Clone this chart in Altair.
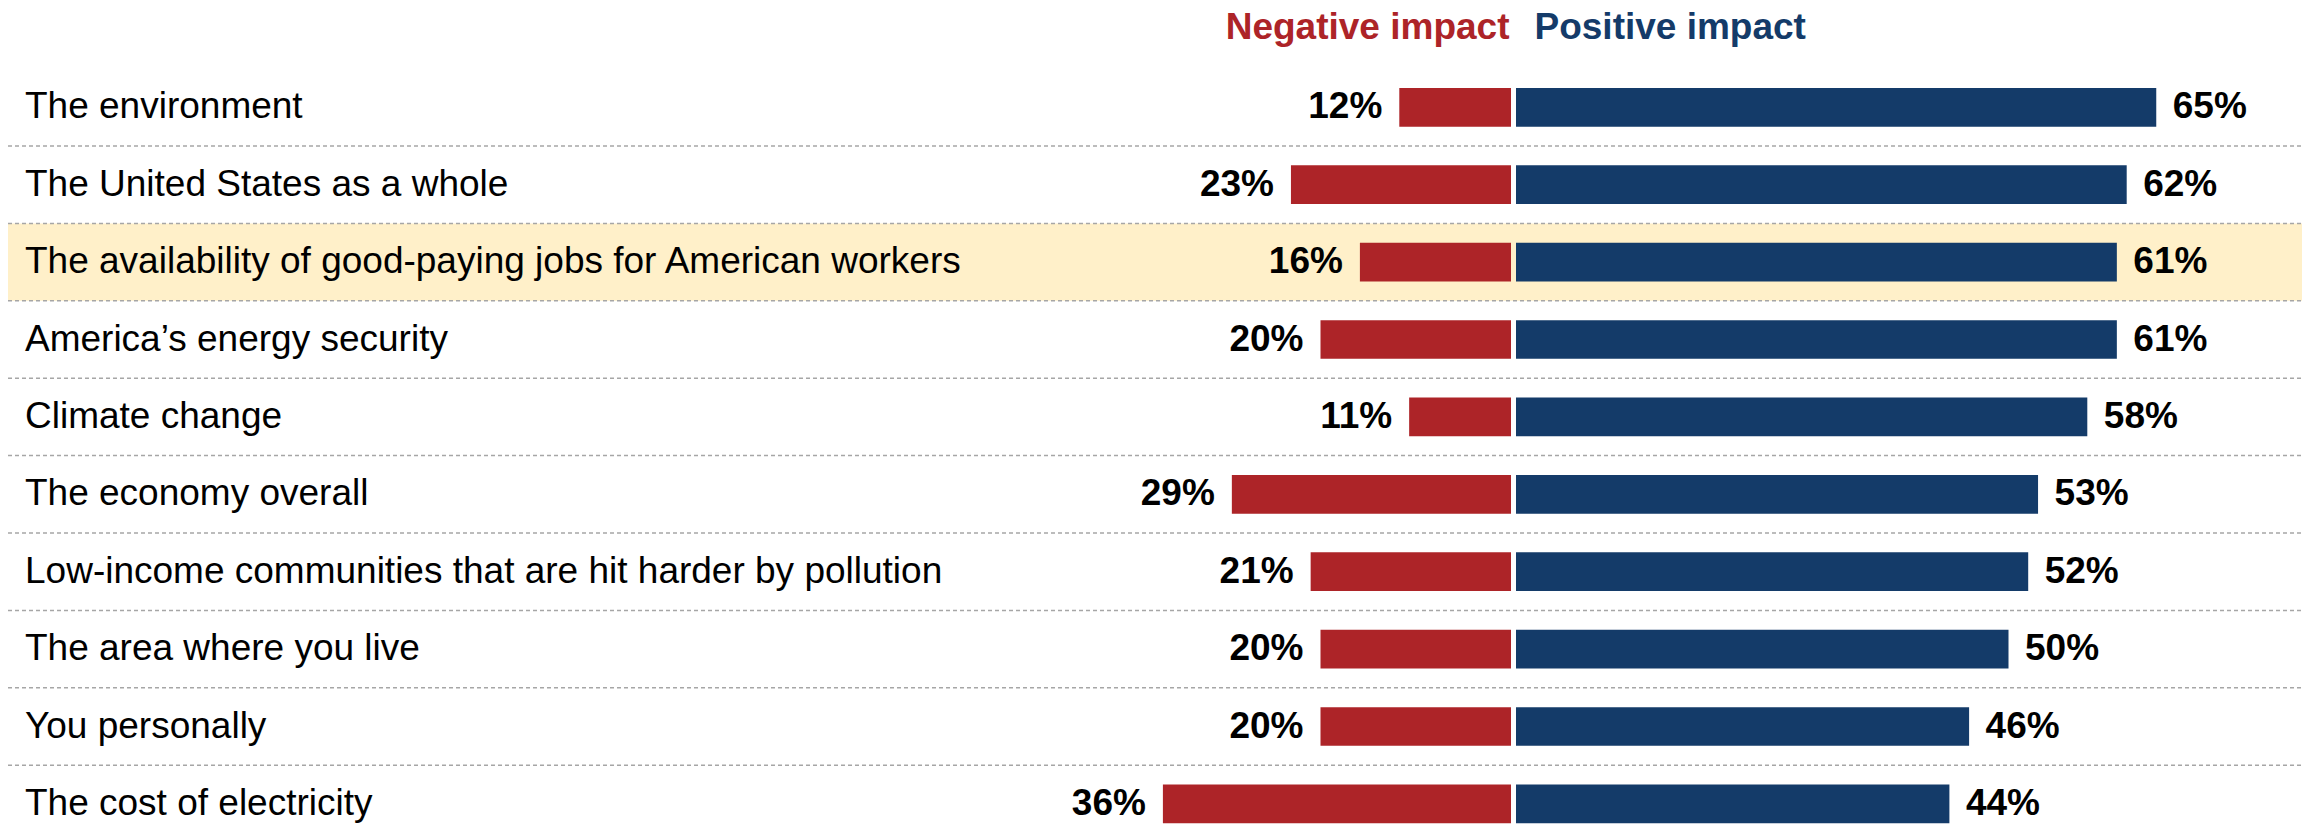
import altair as alt
import pandas as pd

categories = [
    "The environment",
    "The United States as a whole",
    "The availability of good-paying jobs for American workers",
    "America\u2019s energy security",
    "Climate change",
    "The economy overall",
    "Low-income communities that are hit harder by pollution",
    "The area where you live",
    "You personally",
    "The cost of electricity",
]
negative = [12, 23, 16, 20, 11, 29, 21, 20, 20, 36]
positive = [65, 62, 61, 61, 58, 53, 52, 50, 46, 44]
highlighted = [False, False, True, False, False, False, False, False, False, False]
headers = ["Negative impact", "Positive impact"]

RED = "#AD2428"
BLUE = "#143B69"
HIGHLIGHT = "#FFF0C9"
GRID = "#A6A6A6"
FONT = "Liberation Sans"
FS = 37

W, H = 2297, 817
ZERO_PX = 1505.5
K = 9.85
XMIN = -ZERO_PX / K
XMAX = (W - ZERO_PX) / K
ROW0 = 99.3
STEP = 77.4
YMIN = -ROW0 / STEP
YMAX = (H - ROW0) / STEP

rows = pd.DataFrame({
    "idx": list(range(len(categories))),
    "cat": categories,
    "neg": negative,
    "pos": positive,
    "hl": highlighted,
})
rows["negx"] = -rows["neg"]
rows["zero"] = 0
rows["y0"] = rows["idx"] - 0.25
rows["y1"] = rows["idx"] + 0.25
rows["top"] = rows["idx"] - 0.5
rows["bot"] = rows["idx"] + 0.5
rows["left"] = XMIN
rows["neglab"] = rows["neg"].astype(str) + "%"
rows["poslab"] = rows["pos"].astype(str) + "%"

xs = alt.Scale(domain=[XMIN, XMAX], nice=False, zero=False)
ys = alt.Scale(domain=[YMIN, YMAX], nice=False, zero=False, reverse=True)

base = alt.Chart(rows)

hl = base.transform_filter("datum.hl").mark_rect(color=HIGHLIGHT).encode(
    x=alt.value(0), x2=alt.value(2294),
    y=alt.Y("top:Q", scale=ys, axis=None), y2="bot:Q",
)

seps = pd.DataFrame({"sep": [i + 0.5 for i in range(len(categories) - 1)]})
grid = alt.Chart(seps).mark_rule(color=GRID, strokeWidth=1.5, strokeDash=[4, 3]).encode(
    x=alt.value(0), x2=alt.value(2294),
    y=alt.Y("sep:Q", scale=ys, axis=None),
)

negbar = base.mark_rect(color=RED, xOffset=4, x2Offset=-2.5).encode(
    x=alt.X("negx:Q", scale=xs, axis=None), x2="zero:Q",
    y=alt.Y("y0:Q", scale=ys, axis=None), y2="y1:Q",
)
posbar = base.mark_rect(color=BLUE, xOffset=2.5, x2Offset=2.5).encode(
    x=alt.X("zero:Q", scale=xs, axis=None), x2="pos:Q",
    y=alt.Y("y0:Q", scale=ys, axis=None), y2="y1:Q",
)

neglab = base.mark_text(align="right", baseline="middle", dx=-13, font=FONT,
                        fontSize=FS, fontWeight="bold", color="black").encode(
    x=alt.X("negx:Q", scale=xs, axis=None),
    y=alt.Y("idx:Q", scale=ys, axis=None), text="neglab:N",
)
poslab = base.mark_text(align="left", baseline="middle", dx=19, font=FONT,
                        fontSize=FS, fontWeight="bold", color="black").encode(
    x=alt.X("pos:Q", scale=xs, axis=None),
    y=alt.Y("idx:Q", scale=ys, axis=None), text="poslab:N",
)
catlab = base.mark_text(align="left", baseline="middle", dx=17, font=FONT,
                        fontSize=FS, color="black").encode(
    x=alt.X("left:Q", scale=xs, axis=None),
    y=alt.Y("idx:Q", scale=ys, axis=None), text="cat:N",
)

hdr = pd.DataFrame({
    "label": headers,
    "x": [0, 0],
    "y": [-1.03, -1.03],
})
hneg = alt.Chart(hdr).transform_filter(f"datum.label == '{headers[0]}'").mark_text(
    align="right", baseline="middle", dx=-4, font=FONT, fontSize=FS, fontWeight="bold", color=RED
).encode(x=alt.X("x:Q", scale=xs, axis=None), y=alt.Y("y:Q", scale=ys, axis=None), text="label:N")
hpos = alt.Chart(hdr).transform_filter(f"datum.label == '{headers[1]}'").mark_text(
    align="left", baseline="middle", dx=21, font=FONT, fontSize=FS, fontWeight="bold", color=BLUE
).encode(x=alt.X("x:Q", scale=xs, axis=None), y=alt.Y("y:Q", scale=ys, axis=None), text="label:N")

chart = alt.layer(hl, grid, negbar, posbar, neglab, poslab, catlab, hneg, hpos).properties(
    width=W, height=H, padding=0,
    autosize=alt.AutoSizeParams(type="none"),
    background="white",
).configure_view(stroke=None)

chart.save("out.html", embed_options={"renderer": "svg", "actions": False})
